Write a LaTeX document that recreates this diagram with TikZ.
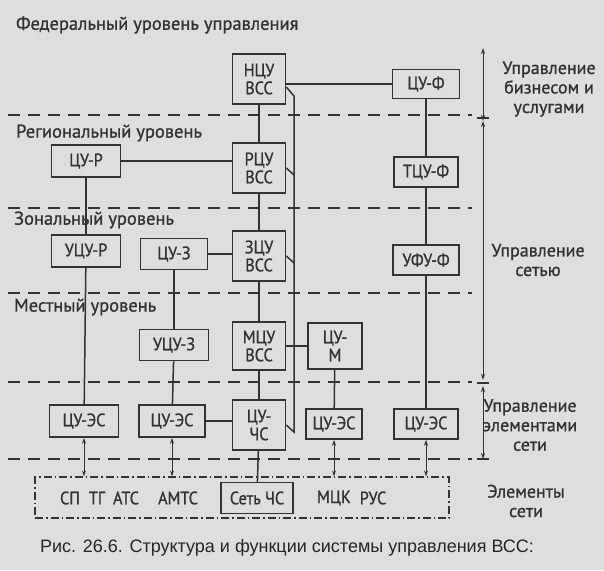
\documentclass[tikz,border=0pt]{standalone}
\usepackage{fontspec}
\setmainfont{PT Sans}[FakeBold=1]
\newfontfamily\blokfont{PT Sans}[FakeStretch=0.9,FakeBold=1]
\newfontfamily\capfont{Liberation Sans}
\usetikzlibrary{arrows.meta}
\definecolor{ink}{gray}{0.2}
\definecolor{paper}{gray}{0.87}

\begin{document}
\begin{tikzpicture}[x=1pt,y=-1pt,ink,line width=1.5pt,
	font=\fontsize{18.5}{20}\selectfont,
	blok/.style={draw,inner sep=0pt,minimum height=31pt,align=center,fill=paper,font=\blokfont\fontsize{18}{18}\selectfont},
	vss/.style={blok,minimum width=53pt,minimum height=50pt},
	urov/.style={dash pattern=on 12pt off 8pt,line width=1.2pt},
	shtrih/.style={dash pattern=on 8pt off 3pt on 1.5pt off 3pt,line width=1.2pt},
	lvl/.style={anchor=west},
	dvu/.style={{Stealth[length=6pt,width=4pt]}-{Stealth[length=6pt,width=4pt]},line width=1pt},
	pravo/.style={align=center,font=\fontsize{18}{19.5}\selectfont}]
			\fill[paper] (0,0) rectangle (604,570);
			\useasboundingbox (0,0) rectangle (604,570);
			\node[lvl] (fed) at (12,25) {Федеральный уровень управления};
			\node[lvl] (reg) at (12,133) {Региональный уровень};
			\node[lvl] (zon) at (10,220) {Зональный уровень};
			\node[lvl] (mest) at (10,307) {Местный уровень};
			\foreach \y in {115,208,293,382,459}
				\draw[urov] (8,\y) -- (472,\y);
			\node[vss] (nvss) at (259,79) {НЦУ\\ВСС};
			\node[blok,minimum width=67pt,minimum height=29pt] (cuf) at (426,84) {ЦУ-Ф};
			\node[blok,minimum width=69pt,minimum height=32pt] (cur) at (86,161) {ЦУ-Р};
			\node[vss] (rvss) at (259,168) {РЦУ\\ВСС};
			\node[blok,minimum width=64pt,minimum height=30pt] (tcuf) at (426,172) {ТЦУ-Ф};
			\node[blok,minimum width=69pt,minimum height=32pt] (ucur) at (86,251) {УЦУ-Р};
			\node[blok,minimum width=67pt] (cuz) at (174,254) {ЦУ-З};
			\node[vss] (zvss) at (259,256) {ЗЦУ\\ВСС};
			\node[blok,minimum width=66pt,minimum height=30pt] (ufuf) at (426,260) {УФУ-Ф};
			\node[blok,minimum width=69pt] (ucuz) at (174,345) {УЦУ-З};
			\node[vss,minimum height=48pt] (mvss) at (259,346) {МЦУ\\ВСС};
			\node[blok,minimum width=54pt,minimum height=46pt] (cum) at (335,346) {ЦУ-\\М};
			\node[blok,minimum width=69pt,minimum height=32pt] (ces1) at (84,421) {ЦУ-ЭС};
			\node[blok,minimum width=66pt,minimum height=32pt] (ces2) at (172,421) {ЦУ-ЭС};
			\node[vss] (cuchs) at (259,425) {ЦУ-\\ЧС};
			\node[blok,minimum width=56pt,minimum height=30pt] (ces3) at (334,424) {ЦУ-ЭС};
			\node[blok,minimum width=64pt,minimum height=30pt] (ces4) at (426,424) {ЦУ-ЭС};
			\node[draw,shtrih,minimum width=414pt,minimum height=41pt] (elem) at (242,497.5) {};
			\node[blok,minimum width=72pt] (setchs) at (257,498) {Сеть ЧС};
			\begin{scope}[font=\blokfont\fontsize{18}{18}\selectfont]
				\node (sp) at (70,498) {СП};
				\node (tg) at (97,498) {ТГ};
				\node (ats) at (126,498) {АТС};
				\node (amts) at (178,498) {АМТС};
				\node (mck) at (334,498) {МЦК};
				\node (rus) at (373,498) {РУС};
			\end{scope}
			\foreach \a/\b in {nvss/rvss,rvss/zvss,zvss/mvss,mvss/cuchs,cuchs/setchs,cuf/tcuf,tcuf/ufuf,ufuf/ces4,cur/ucur,ucur/ces1,cuz/ucuz,ucuz/ces2,cum/ces3}
				\draw (\a) -- (\b);
			\draw[line width=2.6pt] (cuf.west) -- (cuf.west -| nvss.east);
			\draw[line width=2pt] (cur) -- (cur -| rvss.west);
			\draw[line width=2pt] (cuz) -- (cuz -| zvss.west);
			\draw[line width=2pt] (ces2) -- (ces2 -| cuchs.west);
			\draw (mvss) -- (cum);
			\coordinate (b1) at (294,96);
			\coordinate (b2) at (294,175);
			\coordinate (b3) at (294,263);
			\coordinate (b4) at (294,432);
			\draw ([yshift=-8pt]nvss.east) -- (b1) -- (b4) -- (cuchs.east);
			\draw (rvss.east) -- (b2);
			\draw (zvss.east) -- (b3);
			\foreach \n in {ces1,ces2,ces3,ces4}
				\draw[dvu] (\n) -- (\n |- elem.north);
			\coordinate (u0) at (483,48);
			\coordinate (u1) at (483,118);
			\coordinate (u2) at (483,383);
			\coordinate (u3) at (483,459);
			\draw[dvu] (u0) -- ([yshift=-3pt]u1);
			\draw[dvu] ([yshift=-3pt]u1) -- ([yshift=3pt]u2);
			\draw[dvu] ([yshift=-3pt]u2) -- (u3);
			\foreach \u in {u1,u2,u3}
				\draw ([xshift=-6pt]\u) -- ([xshift=6pt]\u);
			\node[pravo] (ubu) at (549,89) {Управление\\бизнесом и\\услугами};
			\node[pravo] (us) at (538,260) {Управление\\сетью};
			\node[pravo] (uel) at (530,425) {Управление\\элементами\\сети};
			\node[pravo] (els) at (526,501) {Элементы\\сети};
			\node[font=\capfont\fontsize{18}{20}\selectfont,text=black!85] (cap) at (287,548) {Рис. 26.6. Структура и функции системы управления ВСС:};
		\end{tikzpicture}
\end{document}
